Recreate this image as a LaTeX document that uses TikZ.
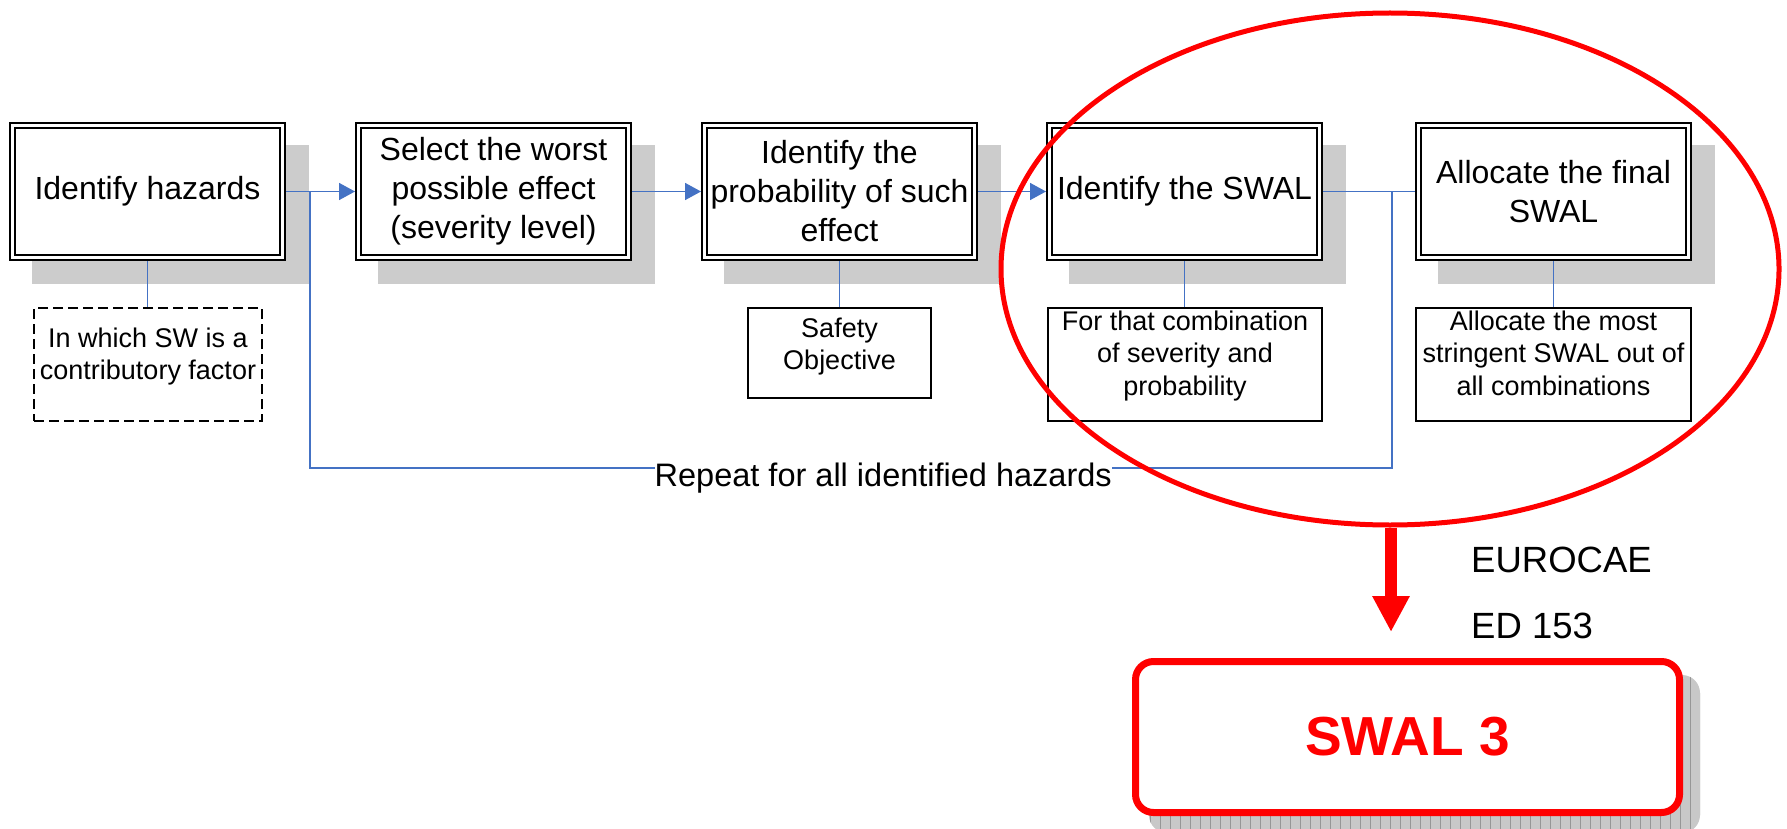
\documentclass[tikz,border=0pt]{standalone}
\usepackage{fontspec}
\setmainfont{Liberation Sans}
\usetikzlibrary{arrows.meta,shapes.geometric,backgrounds}
\definecolor{conblue}{RGB}{68,114,196}
\definecolor{shgray}{RGB}{204,204,204}
\definecolor{swred}{RGB}{255,0,0}
\definecolor{gridfill}{RGB}{200,200,200}
\definecolor{gridline}{RGB}{150,150,150}
\tikzset{
  mainbox/.style={draw=black, line width=2pt, double=white, double distance=3pt, fill=white,
    minimum width=270pt, minimum height=132pt, inner sep=0pt, outer sep=3.5pt, align=center,
    font=\fontsize{32}{39}\selectfont},
  subbox/.style={draw=black, line width=2pt, fill=white, inner sep=0pt},
  subtext/.style={align=center, inner sep=0pt, font=\fontsize{27}{32.5}\selectfont},
  conn/.style={draw=conblue, line width=1.6pt},
  arr/.style={conn, -{Triangle[length=16pt,width=17pt]}},
  bigtext/.style={inner sep=0pt, anchor=base west},
}
\begin{document}
\begin{tikzpicture}[x=1pt, y=-1pt]
\useasboundingbox (0,0) rectangle (1787,829);
% main boxes
\node[mainbox] (b1) at (147.5,191.5) {Identify hazards};
\node[mainbox] (b2) at (493.5,191.5) {Select the worst\\possible effect\\(severity level)};
\node[mainbox] (b3) at (839.5,191.5) {Identify the\\probability of such\\effect};
\node[mainbox] (b4) at (1184.5,191.5) {Identify the SWAL};
\node[mainbox] (b5) at (1553.5,191.5) {Allocate the final\\SWAL};
% sub boxes
\node[subbox, dash pattern=on 10pt off 5pt, minimum width=228pt, minimum height=113pt] (s1) at (148,364.5) {};
\node[subbox, minimum width=183pt, minimum height=90pt] (s2) at (839.5,353) {};
\node[subbox, minimum width=274pt, minimum height=113pt] (s3) at (1185,364.5) {};
\node[subbox, minimum width=275pt, minimum height=113pt] (s4) at (1553.5,364.5) {};
\node[subtext, anchor=north] (t1) at (148,327.3) {In which SW is a\\contributory factor};
\node[subtext, anchor=north] (t2) at (839.5,317.3) {Safety\\Objective};
\node[subtext, anchor=north] (t3) at (1185,310.3) {For that combination\\of severity and\\probability};
\node[subtext, anchor=north] (t4) at (1553.5,310.3) {Allocate the most\\stringent SWAL out of\\all combinations};
% SWAL box
\node[draw=swred, line width=7pt, rounded corners=18pt, fill=white, minimum width=544pt,
  minimum height=151pt, inner sep=0pt, text=swred, font=\bfseries\fontsize{55}{60}\selectfont] (sw) at (1407.5,737) {SWAL 3};
% shadows
\begin{scope}[on background layer]
  \foreach \n in {b1,b2,b3,b4,b5}
    \fill[shgray] ([shift={(23,23)}]\n.north west) rectangle ([shift={(23,23)}]\n.south east);
  \begin{scope}
    \clip[rounded corners=18pt] ([shift={(17,17)}]sw.north west) rectangle ([shift={(17,17)}]sw.south east);
    \fill[gridfill] ([shift={(17,17)}]sw.north west) rectangle ([shift={(17,17)}]sw.south east);
    \draw[gridline, line width=0.5pt, step=10] (1140,660) grid (1710,840);
  \end{scope}
\end{scope}
% connectors
\draw[arr] (b1.east) -- (b2.west);
\draw[arr] (b2.east) -- (b3.west);
\draw[arr] (b3.east) -- (b4.west);
\draw[conn] (b4.east) -- (b5.west);
\draw[conn] (b1.south) -- (b1.south |- s1.north);
\draw[conn] (b3.south) -- (b3.south |- s2.north);
\draw[conn] (b4.south) -- (b4.south |- s3.north);
\draw[conn] (b5.south) -- (b5.south |- s4.north);
\coordinate (j1) at (310,191.5);
\coordinate (c1) at (310,468);
\coordinate (c2) at (1392,468);
\coordinate (j2) at (1392,191.5);
\draw[conn] (j1) -- (c1) -- (c2) -- (j2);
\node[bigtext, fill=white, font=\fontsize{32.5}{38}\selectfont] (rep) at (654.5,486.7) {Repeat for all identified hazards};
% red ellipse and arrow
\node[ellipse, draw=swred, line width=5pt, minimum width=778pt, minimum height=512pt, inner sep=0pt] (E) at (1390,269) {};
\coordinate (tip) at (1391,632);
\draw[swred, line width=12pt, -{Triangle[length=36pt,width=35pt]}] (E.south -| tip) -- (tip);
% reference text
\node[bigtext, font=\fontsize{36.5}{42}\selectfont] (eu) at (1471,572) {EUROCAE};
\node[bigtext, font=\fontsize{36.5}{42}\selectfont] (ed) at (1471,638) {ED 153};
\end{tikzpicture}
\end{document}
